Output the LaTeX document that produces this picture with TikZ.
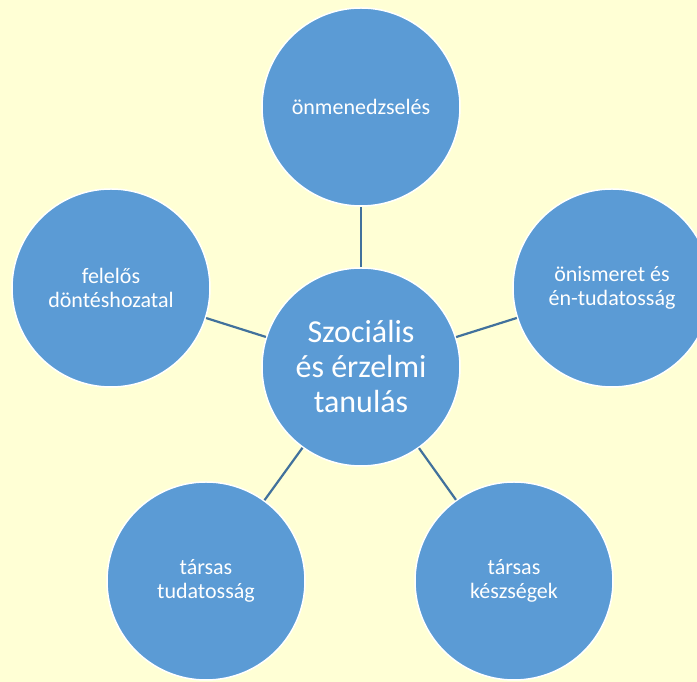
\documentclass[tikz,border=0pt]{standalone}
\usepackage{fontspec}
\setmainfont{Carlito}
\definecolor{bgyellow}{HTML}{FFFFD5}
\definecolor{circblue}{HTML}{5B9BD5}
\definecolor{linkblue}{HTML}{41719C}
\tikzset{
  topic/.style={circle, fill=circblue, draw=white, line width=1.5pt,
    minimum size=198pt, inner sep=0pt, align=center, text=white,
    font=\fontsize{22}{24}\selectfont},
  hub/.style={topic, font=\fontsize{32}{35}\selectfont},
  link/.style={linkblue, line width=2.2pt}
}
\begin{document}
\begin{tikzpicture}[x=1pt, y=1pt]
        \fill[bgyellow] (0,0) rectangle (697,682);
        \useasboundingbox (0,0) rectangle (697,682);
        \clip (0,0) rectangle (697,682);
        % centre and the five topics
        \node[hub] (hub) at (361,315) {Szociális\\és érzelmi\\tanulás};
        \node[topic] (selfmgmt) at (361,575) {önmenedzselés};
        \node[topic] (selfaware) at (612,394) {önismeret és\\én-tudatosság};
        \node[topic] (decision) at (111,394) {felelős\\döntéshozatal};
        \node[topic] (socaware) at (206,101) {társas\\tudatosság};
        \node[topic] (socskill) at (514,101) {társas\\készségek};
        % spokes
        \foreach \t in {selfmgmt, selfaware, decision, socaware, socskill}
            \draw[link] (hub) -- (\t);
\end{tikzpicture}
\end{document}
